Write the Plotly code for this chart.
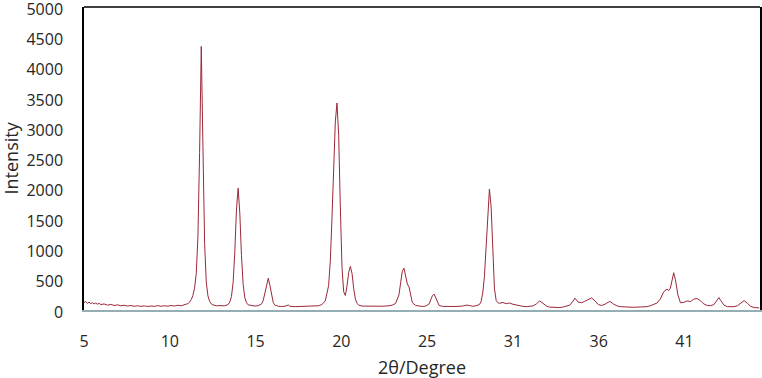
import plotly.graph_objects as go

two_theta = [
    5.0, 5.1, 5.2, 5.3, 5.4, 5.5, 5.6, 5.7, 5.8, 5.9, 6.0, 6.2, 6.4, 6.6, 6.8, 7.0, 7.2, 7.4, 7.6, 7.8,
    8.0, 8.2, 8.4, 8.6, 8.8, 9.0, 9.2, 9.4, 9.6, 9.8, 10.0, 10.2, 10.4, 10.6, 10.8, 11.0, 11.1, 11.2, 11.3, 11.4,
    11.5, 11.6, 11.7, 11.8, 11.9, 12.0, 12.1, 12.2, 12.3, 12.4, 12.5, 12.6, 12.7, 12.8, 12.9, 13.0, 13.2, 13.4, 13.6, 13.7,
    13.8, 13.9, 14.0, 14.1, 14.2, 14.3, 14.4, 14.5, 14.6, 14.7, 14.8, 15.0, 15.2, 15.4, 15.6, 15.7, 15.8, 15.9, 16.0, 16.1,
    16.2, 16.3, 16.4, 16.6, 16.8, 17.0, 17.2, 17.3, 17.6, 18.0, 18.4, 18.8, 19.0, 19.2, 19.4, 19.6, 19.7, 19.8, 19.9, 20.0,
    20.1, 20.2, 20.3, 20.4, 20.5, 20.6, 20.7, 20.8, 20.9, 21.0, 21.1, 21.2, 21.3, 21.4, 21.6, 22.0, 22.4, 22.8, 23.2, 23.4,
    23.6, 23.8, 23.9, 24.0, 24.1, 24.2, 24.3, 24.4, 24.5, 24.6, 24.8, 25.0, 25.2, 25.4, 25.6, 25.7, 25.8, 25.9, 26.0, 26.1,
    26.2, 26.4, 26.8, 27.2, 27.6, 27.8, 28.0, 28.2, 28.4, 28.6, 28.7, 28.8, 28.9, 29.0, 29.1, 29.2, 29.3, 29.4, 29.5, 29.6,
    29.7, 29.8, 30.0, 30.2, 30.4, 30.6, 30.8, 31.0, 31.2, 31.4, 31.6, 31.8, 32.0, 32.2, 32.4, 32.6, 32.8, 33.0, 33.2, 33.4,
    33.6, 33.8, 34.0, 34.2, 34.3, 34.5, 34.7, 34.9, 35.1, 35.3, 35.5, 35.7, 35.9, 36.1, 36.3, 36.4, 36.6, 36.8, 37.0, 37.4,
    37.8, 38.2, 38.6, 38.8, 39.0, 39.2, 39.4, 39.6, 39.8, 39.9, 40.0, 40.1, 40.2, 40.3, 40.45, 40.6, 40.8, 41.0, 41.2, 41.4,
    41.6, 41.8, 42.0, 42.2, 42.4, 42.6, 42.8, 42.9, 43.0, 43.2, 43.4, 43.6, 43.8, 44.0, 44.2, 44.4, 44.6, 44.8, 45.0, 45.3,
]

intensity = [
    125, 140, 110, 130, 105, 120, 100, 115, 95, 110, 90, 100, 80, 92, 75, 85, 70, 78, 66, 74,
    62, 70, 60, 68, 58, 66, 60, 72, 62, 70, 64, 74, 66, 78, 70, 82, 90, 105, 130, 170,
    240, 360, 600, 1200, 2600, 4350, 2700, 1100, 450, 230, 140, 100, 85, 75, 68, 72, 65, 70, 90, 130,
    220, 450, 950, 1650, 2010, 1600, 900, 420, 200, 120, 85, 70, 65, 72, 100, 160, 280, 420, 525, 400,
    220, 120, 80, 62, 58, 62, 82, 60, 55, 60, 56, 62, 70, 90, 150, 400, 800, 1500, 2400, 3100,
    3416, 2900, 1700, 700, 300, 240, 400, 620, 720, 600, 350, 180, 110, 80, 65, 60, 58, 62, 70, 80,
    110, 250, 450, 640, 690, 560, 430, 380, 230, 120, 75, 62, 58, 65, 100, 170, 240, 260, 200, 120,
    75, 60, 55, 58, 65, 80, 75, 62, 70, 90, 140, 280, 550, 1000, 1600, 1997, 1700, 900, 350, 160,
    120, 110, 125, 105, 115, 95, 80, 65, 60, 55, 60, 68, 100, 150, 110, 65, 48, 42, 45, 40,
    50, 60, 80, 150, 195, 130, 120, 145, 170, 200, 150, 90, 75, 95, 130, 140, 100, 70, 55, 48,
    45, 50, 55, 70, 90, 115, 180, 300, 345, 320, 360, 500, 615, 500, 250, 120, 125, 150, 140, 180,
    190, 150, 100, 75, 70, 90, 170, 205, 160, 80, 55, 50, 55, 70, 110, 155, 110, 60, 40, 35,
]

tick_vals = [5, 10.12, 15.24, 20.36, 25.48, 30.6, 35.72, 40.84]
tick_text = ["5", "10", "15", "20", "25", "31", "36", "41"]
y_ticks = [0, 500, 1000, 1500, 2000, 2500, 3000, 3500, 4000, 4500, 5000]

fig = go.Figure()
fig.add_trace(go.Scatter(
    x=two_theta, y=intensity, mode="lines",
    line=dict(color="#9C2838", width=1),
    showlegend=False, cliponaxis=False,
))

font_family = "Open Sans, Liberation Sans, sans-serif"

fig.update_layout(
    width=762, height=378,
    margin=dict(l=84, r=2, t=7, b=68, autoexpand=False),
    paper_bgcolor="white", plot_bgcolor="white",
    font=dict(family=font_family, color="#262626", size=16),
    xaxis=dict(
        range=[5, 45.35], tickvals=tick_vals, ticktext=tick_text,
        showgrid=False, zeroline=False, showline=True, automargin=False,
        linecolor="#94AEB4", linewidth=2, ticks="",
        ticklabelstandoff=16, tickfont=dict(size=16), ticklabeloverflow="allow",
    ),
    yaxis=dict(
        range=[0, 5000], tickvals=y_ticks, showgrid=False, zeroline=False,
        showline=True, linecolor="black", linewidth=1.5, mirror=True, ticks="",
        automargin=False, ticklabelstandoff=16, tickfont=dict(size=16),
        ticklabeloverflow="allow", ticklabelshift=2,
    ),
    shapes=[dict(type="line", xref="paper", yref="paper", x0=0, x1=1, y0=1, y1=1,
                 line=dict(color="black", width=1.5))],
    annotations=[
        dict(text="2θ/Degree", xref="paper", yref="paper", x=(422 - 84) / 676, y=-57 / 303,
             xanchor="center", yanchor="middle", showarrow=False, font=dict(size=18)),
        dict(text="Intensity", xref="paper", yref="paper", x=-74 / 676, y=0.5,
             xanchor="center", yanchor="middle", showarrow=False, textangle=-90,
             font=dict(size=18)),
    ],
)

fig.write_html(
    "out.html",
    config={"displayModeBar": False},
    post_script="document.body.style.margin='0';document.body.style.overflow='hidden';",
)
